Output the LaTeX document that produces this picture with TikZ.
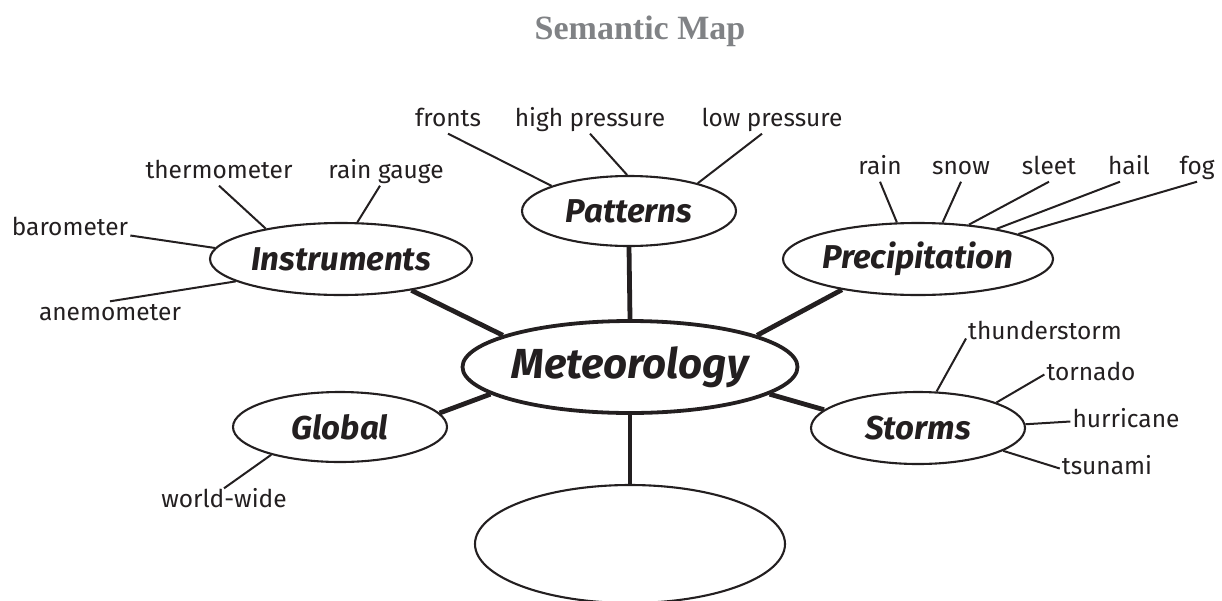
\documentclass[tikz,border=0pt]{standalone}
\usepackage{fontspec}
\setmainfont{Fira Sans}
\newfontfamily\titlefont{Liberation Serif}
\usetikzlibrary{shapes.geometric}
\definecolor{ink}{HTML}{231F20}
\definecolor{titlegray}{HTML}{808285}

\begin{document}
\begin{tikzpicture}[x=1pt,y=-1pt,leaf/.style={font=\fontsize{24.5}{28}\selectfont,text=ink,inner sep=2pt,text height=17pt,text depth=5pt,yshift=-2.5pt},topic/.style={ellipse,draw=ink,line width=2.1pt,inner sep=0pt,minimum width=214pt,minimum height=70pt,font=\fontsize{33}{38}\selectfont\bfseries\itshape,text=ink},twig/.style={draw=ink,line width=2pt},branch/.style={draw=ink,line width=4.8pt}]
  \useasboundingbox (0,0) rectangle (1222,600);
  \node[font=\titlefont\fontsize{34}{40}\selectfont\bfseries,text=titlegray,anchor=base] (title) at (640,39) {Semantic Map};

  \node[topic,line width=3.8pt,minimum width=310pt,minimum height=92pt,font=\fontsize{42}{48}\selectfont\bfseries\itshape] (met) at (630,367) {Meteorology};
  \node[topic] (pat) at (629,211) {Patterns};
  \node[topic,minimum width=262pt,minimum height=72pt] (ins) at (341,259) {Instruments};
  \node[topic,minimum width=264pt,minimum height=72pt] (pre) at (918,259) {Precipitation};
  \node[topic] (glo) at (340,427) {Global};
  \node[topic,minimum height=72pt] (sto) at (918,428) {Storms};
  \node[topic,minimum width=310pt,minimum height=118pt] (blank) at (630,544) {};

  \draw[branch] (pat.south) -- (met.north);
  \draw[branch] (ins.-24) -- (met.166);
  \draw[branch] (pre.-158) -- (met.14);
  \draw[branch] (glo.8) -- (met.-169);
  \draw[branch] (sto.169) -- (met.-11);
  \draw[branch] (met.south) -- (blank.north);

  \node[leaf] (fronts) at (448,118) {fronts};
  \node[leaf] (highp) at (590,118) {high pressure};
  \node[leaf] (lowp) at (772,118) {low pressure};
  \draw[twig] (fronts.south) -- (pat.162);
  \draw[twig] (highp.south) -- (pat.93);
  \draw[twig] ([xshift=-10pt]lowp.south) -- (pat.22);

  \node[leaf] (therm) at (219,170) {thermometer};
  \node[leaf] (raing) at (386,170) {rain gauge};
  \node[leaf] (barom) at (70,227) {barometer};
  \node[leaf] (anemo) at (110,312) {anemometer};
  \draw[twig] (therm.south) -- (ins.158);
  \draw[twig] ([xshift=-6pt]raing.south) -- (ins.66);
  \draw[twig] ([yshift=-6pt]barom.east) -- (ins.175);
  \draw[twig] (anemo.north) -- (ins.-168);

  \node[leaf] (rain) at (880,166) {rain};
  \node[leaf] (snow) at (961,166) {snow};
  \node[leaf] (sleet) at (1049,166) {sleet};
  \node[leaf] (hail) at (1129,166) {hail};
  \node[leaf] (fog) at (1197,166) {fog};
  \draw[twig] (rain.south) -- (pre.120);
  \draw[twig] (snow.south) -- (pre.56);
  \draw[twig] (sleet.south) -- (pre.34);
  \draw[twig] ([xshift=-9pt]hail.south) -- (pre.21);
  \draw[twig] (fog.south) -- (pre.14);

  \node[leaf] (thund) at (1045,331) {thunderstorm};
  \node[leaf] (torna) at (1091,372) {tornado};
  \node[leaf] (hurri) at (1126,419) {hurricane};
  \node[leaf] (tsuna) at (1107,466) {tsunami};
  \draw[twig] ([yshift=-5pt]thund.west) -- (sto.63);
  \draw[twig] (torna.west) -- (sto.18);
  \draw[twig] (hurri.west) -- (sto.2);
  \draw[twig] (tsuna.west) -- (sto.-15);

  \node[leaf] (world) at (224,499) {world-wide};
  \draw[twig] (world.north) -- (glo.-158);
\end{tikzpicture}
\end{document}
